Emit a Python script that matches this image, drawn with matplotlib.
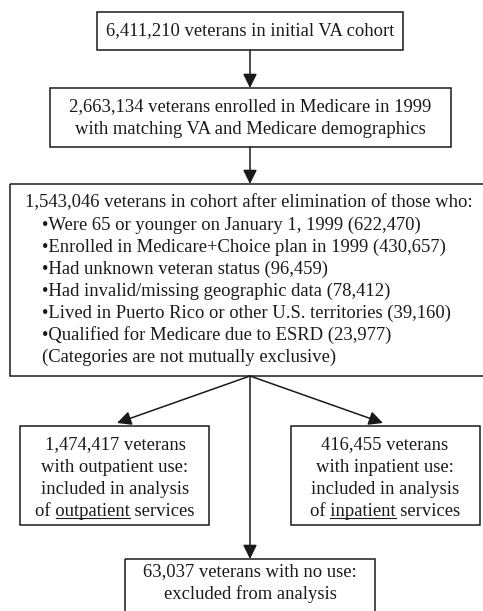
import matplotlib.pyplot as plt
from matplotlib.patches import Rectangle, FancyArrowPatch

plt.rcParams['font.family'] = ['Liberation Serif', 'DejaVu Serif']

# text of the boxes
top_box = ["6,411,210 veterans in initial VA cohort"]
medicare_box = ["2,663,134 veterans enrolled in Medicare in 1999",
                "with matching VA and Medicare demographics"]
cohort_head = "1,543,046 veterans in cohort after elimination of those who:"
exclusions = ["Were 65 or younger on January 1, 1999 (622,470)",
              "Enrolled in Medicare+Choice plan in 1999 (430,657)",
              "Had unknown veteran status (96,459)",
              "Had invalid/missing geographic data (78,412)",
              "Lived in Puerto Rico or other U.S. territories (39,160)",
              "Qualified for Medicare due to ESRD (23,977)"]
cohort_note = "(Categories are not mutually exclusive)"
out_box = ["1,474,417 veterans", "with outpatient use:",
           "included in analysis", "of outpatient services"]
in_box = ["416,455 veterans", "with inpatient use:",
          "included in analysis", "of inpatient services"]
none_box = ["63,037 veterans with no use:", "excluded from analysis"]
underlined = ["outpatient", "inpatient"]

W, H = 483, 611
fig = plt.figure(figsize=(W / 100, H / 100), dpi=100)
ax = fig.add_axes([0, 0, 1, 1])
ax.set_xlim(0, W)
ax.set_ylim(H, 0)
ax.axis("off")

fs = 13.4
lw = 1.1
col = "#1a1a1a"
step = 22


def box(x0, y0, x1, y1):
    ax.add_patch(Rectangle((x0, y0), x1 - x0, y1 - y0, fill=False,
                           ec=col, lw=lw, clip_on=False))


def lines(cx, y0, txts):
    out = []
    for i, t in enumerate(txts):
        out.append(ax.text(cx, y0 + i * step, t, ha="center", va="center",
                           fontsize=fs, color=col))
    return out


def arrow(p0, p1):
    ax.add_patch(FancyArrowPatch(p0, p1, arrowstyle="-|>,head_length=0.85,head_width=0.42",
                                 mutation_scale=10, color=col, lw=lw,
                                 shrinkA=0, shrinkB=0))


# top boxes
box(97, 12, 403, 50)
lines(250, 31, top_box)
arrow((250, 50), (250, 88))

box(50, 88, 451, 147)
lines(250, 107, medicare_box)
arrow((250, 147), (250, 184))

# cohort box (runs off the right edge)
box(10, 184, 490, 376)
ax.text(249, 203, cohort_head, ha="center", va="center", fontsize=fs, color=col)
for i, t in enumerate(exclusions):
    ax.text(42, 225 + i * step, "\u2022" + t, ha="left", va="center",
            fontsize=fs, color=col)
ax.text(42, 225 + len(exclusions) * step, cohort_note, ha="left", va="center",
        fontsize=fs, color=col)

# branches
arrow((250, 376), (117, 423))
arrow((250, 376), (383, 423))
arrow((250, 376), (250, 559))

box(20, 426, 209, 525)
t_out = lines(115, 445, out_box)
box(291, 426, 480, 525)
t_in = lines(385, 445, in_box)

box(125, 559, 375, 640)
lines(250, 572, none_box)

# underline the service words
fig.canvas.draw()
r = fig.canvas.get_renderer()
inv = ax.transData.inverted()
for txt, word in zip([t_out[-1], t_in[-1]], underlined):
    s = txt.get_text()
    pre = s[:s.index(word) + len(word)]
    def width(st):
        tmp = ax.text(0, 0, st, fontsize=fs)
        bb = tmp.get_window_extent(renderer=r)
        tmp.remove()
        return bb.width
    bb = txt.get_window_extent(renderer=r)
    x_end = bb.x0 + width(pre)
    x_start = x_end - width(word)
    (xa, _), (xb, _) = inv.transform([(x_start, 0), (x_end, 0)])
    ax.plot([xa, xb], [518, 518], color=col, lw=0.8)

fig.savefig("out.png", dpi=100)
